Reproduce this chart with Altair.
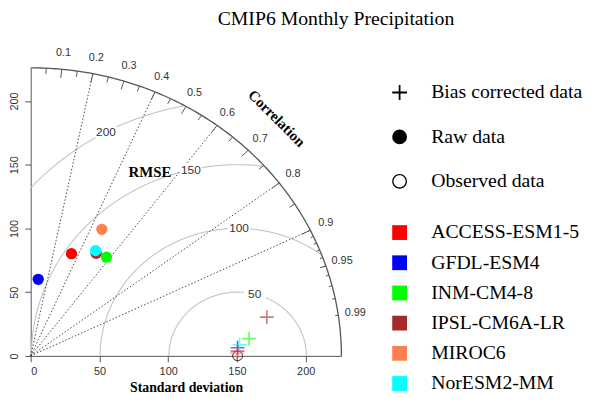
import numpy as np
import pandas as pd
import altair as alt

# ---------------- data ----------------
models = ["ACCESS-ESM1-5", "GFDL-ESM4", "INM-CM4-8", "IPSL-CM6A-LR", "MIROC6", "NorESM2-MM"]
model_colors = ["#FF0000", "#0000FF", "#00FF00", "#A52A2A", "#FF7F50", "#00FFFF"]

raw_sd = [85.5, 60.3, 95.0, 93.5, 112.0, 95.2]
raw_cor = [0.347, 0.091, 0.580, 0.509, 0.462, 0.496]

bc_sd = [150.5, 150.6, 159.4, 174.4, 150.0, 152.1]
bc_cor = [0.9997, 0.9991, 0.9964, 0.9847, 0.9999, 0.9984]

obs_sd = 150.5

type_labels = ["Bias corrected data", "Raw data", "Observed data"]
rmse_levels = [50, 100, 150, 200]
rmse_label_deg = [75.6, 89.4, 103.1, 118.6]
cor_lines = [0.2, 0.4, 0.6, 0.8, 0.9]
cor_big = [0.1, 0.2, 0.3, 0.4, 0.5, 0.6, 0.7, 0.8, 0.9]
cor_med = [0.05, 0.15, 0.25, 0.35, 0.45, 0.55, 0.65, 0.75, 0.85, 0.95]
cor_small = [0.91, 0.92, 0.93, 0.94, 0.95, 0.96, 0.97, 0.98, 0.99]
cor_label_vals = [0.1, 0.2, 0.3, 0.4, 0.5, 0.6, 0.7, 0.8, 0.9, 0.95, 0.99]
cor_label_txt = ["0.1", "0.2", "0.3", "0.4", "0.5", "0.6", "0.7", "0.8", "0.9", "0.95", "0.99"]
sd_ticks = [0, 50, 100, 150, 200]
max_sd = 226.0

# ---------------- derived tables ----------------
def polar(sd, cor):
    sd = np.asarray(sd, float)
    cor = np.asarray(cor, float)
    return sd * cor, sd * np.sqrt(1 - cor ** 2)

rx, ry = polar(raw_sd, raw_cor)
raw_df = pd.DataFrame({"model": models, "x": rx, "y": ry, "type": "Raw data"})
bx, by = polar(bc_sd, bc_cor)
bc_df = pd.DataFrame({"model": models, "x": bx, "y": by, "type": "Bias corrected data"})
obs_df = pd.DataFrame({"x": [obs_sd], "y": [0.0], "type": ["Observed data"]})

# correlation radial lines
cl = np.array(cor_lines)
corline_df = pd.DataFrame({"x": 0.0, "y": 0.0, "x2": max_sd * cl, "y2": max_sd * np.sqrt(1 - cl ** 2)})

# outer arc
th = np.linspace(0, np.pi / 2, 200)
outer_df = pd.DataFrame({"x": max_sd * np.cos(th), "y": max_sd * np.sin(th), "i": np.arange(len(th))})

# ticks on outer arc
tick_rows = []
for vals, frac in ((cor_big, 0.97), (cor_med, 0.98), (cor_small, 0.99)):
    for c in vals:
        s = np.sqrt(1 - c ** 2)
        tick_rows.append({"x": max_sd * c, "y": max_sd * s, "x2": frac * max_sd * c, "y2": frac * max_sd * s})
tick_df = pd.DataFrame(tick_rows)

# correlation labels
cv = np.array(cor_label_vals)
corlab_df = pd.DataFrame({"x": 1.055 * max_sd * cv, "y": 1.055 * max_sd * np.sqrt(1 - cv ** 2), "label": cor_label_txt})

# RMSE arcs
rows = []
t = np.linspace(0, np.pi, 1500)
for g in rmse_levels:
    xs_ = obs_sd + g * np.cos(t)
    ys_ = g * np.sin(t)
    keep = (xs_ >= 0) & (xs_ ** 2 + ys_ ** 2 <= max_sd ** 2)
    for k, (a, b) in enumerate(zip(xs_[keep], ys_[keep])):
        rows.append({"g": g, "i": k, "x": a, "y": b})
rmse_df = pd.DataFrame(rows)
rl = np.radians(rmse_label_deg)
rmselab_df = pd.DataFrame({
    "x": obs_sd + np.array(rmse_levels) * np.cos(rl),
    "y": np.array(rmse_levels) * np.sin(rl),
    "label": [str(g) for g in rmse_levels],
})

word_df = pd.DataFrame({"x": [86.7], "y": [144.4], "label": ["RMSE"]})
corword_df = pd.DataFrame({"x": [179.0], "y": [186.5], "label": ["Correlation"]})

# ---------------- encodings ----------------
xs = alt.Scale(domain=[0, max_sd], nice=False, zero=False)
ys = alt.Scale(domain=[0, max_sd], nice=False, zero=False)

x_axis = alt.Axis(values=sd_ticks, title="Standard deviation", grid=False, format="d",
                  domainColor="#555", tickColor="#555", tickSize=6, labelColor="#333",
                  labelFont="Liberation Sans", labelFontSize=11, labelPadding=4,
                  titleFont="Liberation Serif", titleFontSize=14, titleFontWeight="bold",
                  titleColor="black", titlePadding=4)
y_axis = alt.Axis(values=sd_ticks, title=None, grid=False, format="d",
                  domainColor="#555", tickColor="#555", tickSize=6, labelColor="#333",
                  labelFont="Liberation Sans", labelFontSize=11, labelPadding=5,
                  labelAngle=-90, labelAlign="center", labelBaseline="bottom")

X = alt.X("x:Q", scale=xs, axis=x_axis)
Y = alt.Y("y:Q", scale=ys, axis=y_axis)

cross_path = "M-1,-0.12H-0.12V-1H0.12V-0.12H1V0.12H0.12V1H-0.12V0.12H-1Z"
ring_path = "M-1,0A1,1 0 1,0 1,0A1,1 0 1,0 -1,0Z M-0.82,0A0.82,0.82 0 1,1 0.82,0A0.82,0.82 0 1,1 -0.82,0Z"

shape_enc = alt.Shape(
    "type:N",
    scale=alt.Scale(domain=type_labels, range=[cross_path, "circle", ring_path]),
    legend=alt.Legend(title=None, orient="none", legendX=364, legendY=15, symbolSize=225,
                      symbolFillColor="black", symbolStrokeColor="black", symbolStrokeWidth=0,
                      symbolOpacity=1, labelFont="Liberation Serif", labelFontSize=20,
                      labelColor="black", rowPadding=25, labelOffset=22, padding=0,
                      labelLimit=300),
)
color_enc = alt.Color(
    "model:N",
    scale=alt.Scale(domain=models, range=model_colors),
    legend=alt.Legend(title=None, orient="none", legendX=364, legendY=157, symbolType="square",
                      symbolSize=225, symbolOpacity=1, symbolStrokeWidth=0,
                      labelFont="Liberation Serif", labelFontSize=20, labelColor="black",
                      rowPadding=10.6, labelOffset=22, padding=0, labelLimit=300),
)

# ---------------- layers ----------------
rmse_lines = alt.Chart(rmse_df).mark_line(color="#c4c4c4", strokeWidth=1.1).encode(
    x=X, y=Y, detail="g:N", order="i:Q")
cor_rules = alt.Chart(corline_df).mark_rule(color="#333", strokeDash=[1.5, 2], strokeWidth=0.9).encode(
    x=X, y=Y, x2="x2:Q", y2="y2:Q")
outer = alt.Chart(outer_df).mark_line(color="#555", strokeWidth=1.3).encode(x=X, y=Y, order="i:Q")
ticks = alt.Chart(tick_df).mark_rule(color="#555", strokeWidth=1).encode(x=X, y=Y, x2="x2:Q", y2="y2:Q")
cor_text = alt.Chart(corlab_df).mark_text(font="Liberation Sans", fontSize=11, color="#333").encode(
    x=X, y=Y, text="label:N")
rmse_bg = alt.Chart(rmselab_df).mark_point(shape="M-1.6,-0.8H1.6V0.8H-1.6Z", filled=True, fill="white",
                                           opacity=1, size=196, strokeWidth=0).encode(x=X, y=Y)
rmse_text = alt.Chart(rmselab_df).mark_text(font="Liberation Sans", fontSize=12, color="#333").encode(
    x=X, y=Y, text="label:N")
rmse_word = alt.Chart(word_df).mark_text(font="Liberation Serif", fontSize=15, fontWeight="bold",
                                         color="black").encode(x=X, y=Y, text="label:N")
cor_word = alt.Chart(corword_df).mark_text(font="Liberation Serif", fontSize=15, fontWeight="bold",
                                           color="black", angle=45).encode(x=X, y=Y, text="label:N")

raw_pts = alt.Chart(raw_df).mark_point(filled=True, size=130, opacity=1, strokeWidth=0).encode(
    x=X, y=Y, color=color_enc, shape=shape_enc)
bc_pts = alt.Chart(bc_df).mark_point(filled=True, size=196, opacity=0.6, strokeWidth=0).encode(
    x=X, y=Y, color=color_enc, shape=shape_enc)
obs_pt = alt.Chart(obs_df).mark_point(filled=True, size=121, color="black", opacity=0.7, strokeWidth=0).encode(
    x=X, y=Y, shape=shape_enc)

chart = alt.layer(
    rmse_lines, cor_rules, outer, ticks, cor_text, rmse_bg, rmse_text, rmse_word, cor_word,
    obs_pt, raw_pts, bc_pts,
).resolve_scale(color="shared", shape="shared").properties(
    width=315,
    height=292,
    autosize=alt.AutoSizeParams(type="none"),
    padding={"left": 23, "top": 58, "right": 251, "bottom": 37},
    title=alt.TitleParams("CMIP6 Monthly Precipitation", font="Liberation Serif", fontSize=20,
                          fontWeight="normal", color="black", anchor="middle", dx=152, offset=19),
).configure_view(stroke=None)

chart.save("out.html", embed_options={"renderer": "svg", "actions": False})
